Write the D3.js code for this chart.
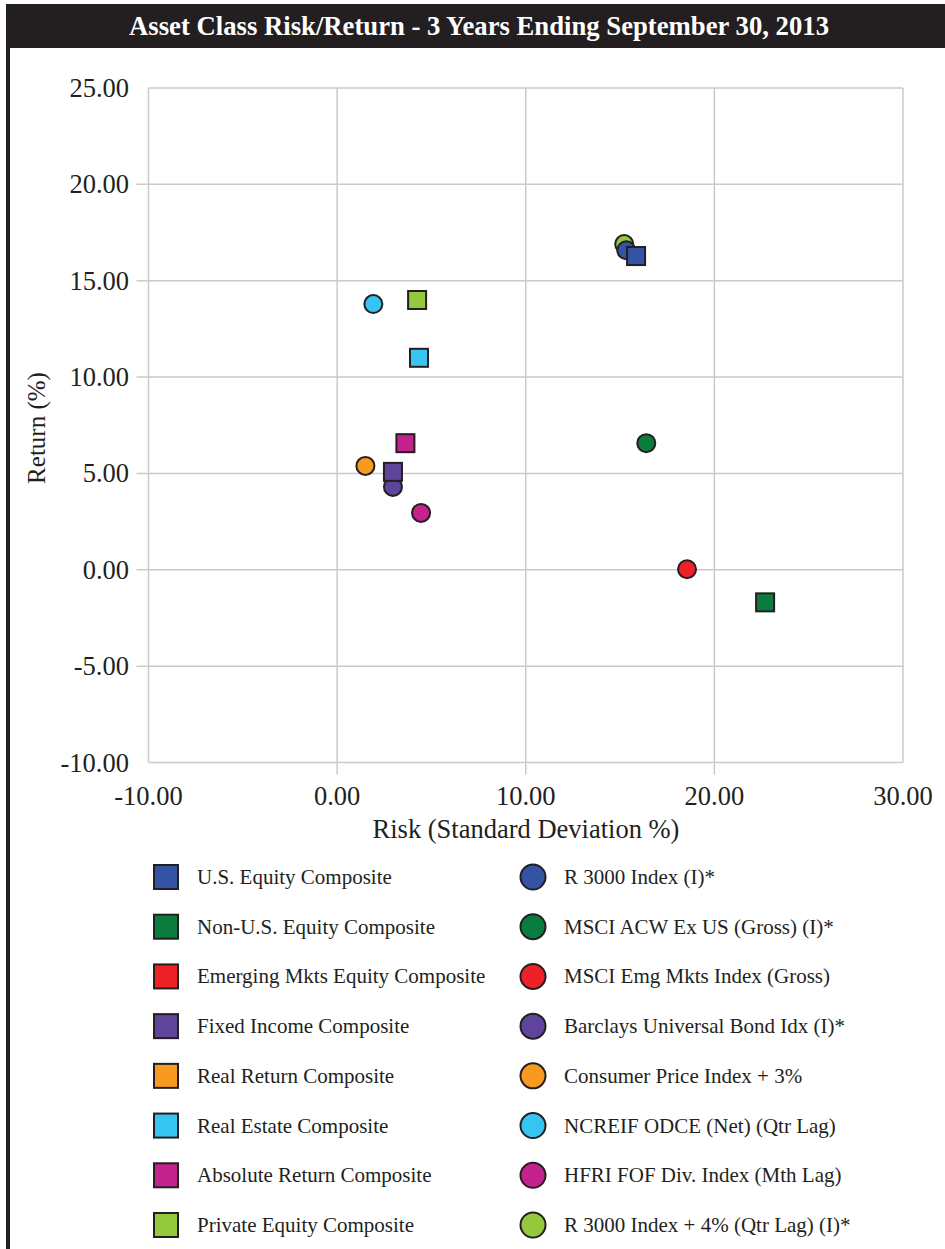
<!DOCTYPE html>
<meta charset="utf-8">
<style>
body,html{ margin:0; padding:0; background:#fff; }
svg{ display:block; font-family:"Liberation Serif","Times New Roman",serif; }
.grid line{ stroke:#cacaca; stroke-width:1.5; }
</style>
<svg width="945" height="1249"></svg>
<script src="https://d3js.org/d3.v7.min.js"></script>
<script>

// composites (squares) and their benchmarks (circles), risk = x, return = y
var composites = ["U.S. Equity Composite","Non-U.S. Equity Composite","Emerging Mkts Equity Composite","Fixed Income Composite","Real Return Composite","Real Estate Composite","Absolute Return Composite","Private Equity Composite"];
var compRisk   = [15.85, 22.69, null, 2.96, null, 4.34, 3.62, 4.24];
var compReturn = [16.28, -1.69, null, 5.08, null, 11.00, 6.57, 14.00];

var benchmarks = ["R 3000 Index (I)*","MSCI ACW Ex US (Gross) (I)*","MSCI Emg Mkts Index (Gross)","Barclays Universal Bond Idx (I)*","Consumer Price Index + 3%","NCREIF ODCE (Net) (Qtr Lag)","HFRI FOF Div. Index (Mth Lag)","R 3000 Index + 4% (Qtr Lag) (I)*"];
var benchRisk   = [15.33, 16.39, 18.55, 2.96, 1.50, 1.92, 4.45, 15.22];
var benchReturn = [16.58, 6.57, 0.03, 4.30, 5.39, 13.79, 2.95, 16.90];

var colors = ["#3553a4","#0a7d3e","#ee2127","#5e449b","#f89a20","#36c5f0","#c4238e","#94c83d"];

var xTicks = [-10,0,10,20,30];
var yTicks = [-10,-5,0,5,10,15,20,25];

var svg = d3.select("svg");
var ink = "#231f20";
var fmt = d => d3.format(".2f")(d).replace("\u2212","-");

// frame: title bar and left rule
svg.append("rect").attr("x",6).attr("y",4).attr("width",939).attr("height",44).attr("fill",ink);
svg.append("rect").attr("x",6).attr("y",4).attr("width",4).attr("height",1245).attr("fill",ink);
svg.append("text").attr("x",479).attr("y",35).attr("text-anchor","middle")
  .attr("fill","#fff").attr("font-weight","bold").attr("font-size",26.5)
  .attr("textLength",700).attr("lengthAdjust","spacingAndGlyphs")
  .text("Asset Class Risk/Return - 3 Years Ending September 30, 2013");

var x = d3.scaleLinear().domain([-10,30]).range([148.5,903]);
var y = d3.scaleLinear().domain([-10,25]).range([762.5,88]);

var grid = svg.append("g").attr("class","grid");
grid.selectAll(".gx").data(xTicks).enter().append("line")
  .attr("x1",d=>x(d)).attr("x2",d=>x(d))
  .attr("y1",y(25)).attr("y2",(d,i)=> (i>0 && i<xTicks.length-1) ? y(-10)+12 : y(-10));
grid.selectAll(".gy").data(yTicks).enter().append("line")
  .attr("y1",d=>y(d)).attr("y2",d=>y(d))
  .attr("x2",x(30)).attr("x1",(d,i)=> (i>0 && i<yTicks.length-1) ? x(-10)-12 : x(-10));

svg.append("g").selectAll("text").data(yTicks).enter().append("text")
  .attr("x",129).attr("y",d=>y(d)+9).attr("text-anchor","end")
  .attr("font-size",26.5).attr("fill",ink).text(fmt);
svg.append("g").selectAll("text").data(xTicks).enter().append("text")
  .attr("x",d=>x(d)).attr("y",805).attr("text-anchor","middle")
  .attr("font-size",26.5).attr("fill",ink).text(fmt);

svg.append("text").attr("x",526).attr("y",838).attr("text-anchor","middle")
  .attr("font-size",26.5).attr("fill",ink).text("Risk (Standard Deviation %)");
svg.append("text").attr("transform","translate(45,428) rotate(-90)").attr("text-anchor","middle")
  .attr("font-size",25).attr("fill",ink).text("Return (%)");

// points: circles first (last series underneath), then squares on top
var circ = d3.range(benchmarks.length).reverse();
svg.append("g").selectAll("circle").data(circ).enter().append("circle")
  .attr("cx",i=>x(benchRisk[i])).attr("cy",i=>y(benchReturn[i])).attr("r",9)
  .attr("fill",i=>colors[i]).attr("stroke",ink).attr("stroke-width",2);

var sq = d3.range(composites.length).filter(i=>compRisk[i]!=null);
svg.append("g").selectAll("rect").data(sq).enter().append("rect")
  .attr("x",i=>x(compRisk[i])-9).attr("y",i=>y(compReturn[i])-9)
  .attr("width",18).attr("height",18)
  .attr("fill",i=>colors[i]).attr("stroke",ink).attr("stroke-width",2);

// legend
var rowY = d3.scaleLinear().domain([0,7]).range([877,1225]);
var leg = svg.append("g");
leg.selectAll("rect").data(composites).enter().append("rect")
  .attr("x",154).attr("y",(d,i)=>rowY(i)-12).attr("width",24).attr("height",24)
  .attr("fill",(d,i)=>colors[i]).attr("stroke",ink).attr("stroke-width",2);
leg.selectAll(".lt").data(composites).enter().append("text")
  .attr("x",197).attr("y",(d,i)=>rowY(i)+7).attr("font-size",21).attr("fill",ink).text(d=>d);
leg.selectAll("circle").data(benchmarks).enter().append("circle")
  .attr("cx",533).attr("cy",(d,i)=>rowY(i)).attr("r",12.5)
  .attr("fill",(d,i)=>colors[i]).attr("stroke",ink).attr("stroke-width",2);
leg.selectAll(".rt").data(benchmarks).enter().append("text")
  .attr("x",564).attr("y",(d,i)=>rowY(i)+7).attr("font-size",21).attr("fill",ink).text(d=>d);

</script>
